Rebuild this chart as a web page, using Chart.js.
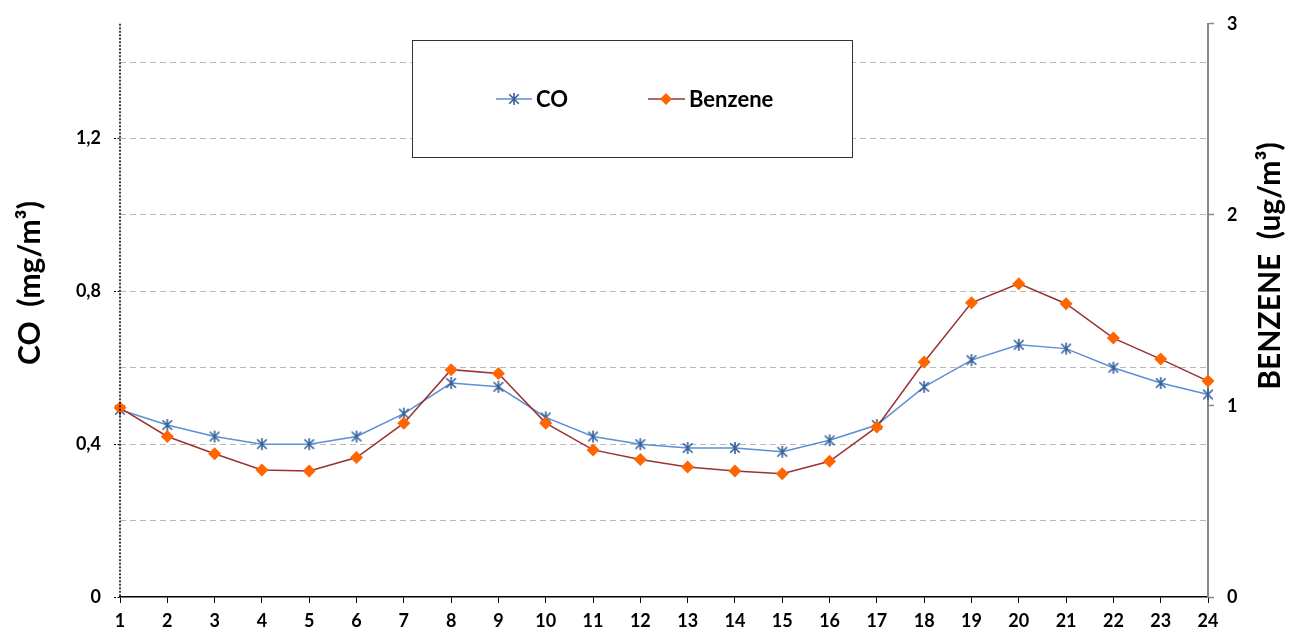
<!DOCTYPE html>
<html>
<head>
<meta charset="utf-8">
<script src="https://cdn.jsdelivr.net/npm/chart.js@4/dist/chart.umd.min.js"></script>
<style>
html,body{margin:0;padding:0;background:#fff;}
#wrap{width:1307px;height:632px;position:relative;}
</style>
</head>
<body>
<div id="wrap"><canvas id="c"></canvas></div>
<script>
const hours = ['1','2','3','4','5','6','7','8','9','10','11','12','13','14','15','16','17','18','19','20','21','22','23','24'];
const coValues = [0.49,0.45,0.42,0.40,0.40,0.42,0.48,0.56,0.55,0.47,0.42,0.40,0.39,0.39,0.38,0.41,0.45,0.55,0.62,0.66,0.65,0.60,0.56,0.53];
const benzeneValues = [0.99,0.84,0.75,0.665,0.66,0.73,0.91,1.19,1.17,0.91,0.77,0.72,0.68,0.66,0.645,0.71,0.89,1.23,1.54,1.64,1.535,1.355,1.245,1.13];
const seriesNames = ['CO','Benzene'];
const leftTitle = 'CO  (mg/m³)';
const rightTitle = 'BENZENE  (ug/m³)';

const FONT = 'Lato, "Open Sans", sans-serif';
const CO_LINE = '#5b8fd8';
const CO_MARK = '#36609a';
const BZ_LINE = '#993333';
const BZ_MARK = '#ff6600';

Chart.defaults.font.family = FONT;
Chart.defaults.font.weight = 700;
Chart.defaults.font.size = 18;
Chart.defaults.color = '#000';

function starMarker(size){
  const c = document.createElement('canvas');
  c.width = size; c.height = size;
  const g = c.getContext('2d');
  const m = size/2, r = size/2 - 1;
  g.strokeStyle = CO_MARK; g.lineWidth = 1.6;
  g.beginPath();
  g.moveTo(m, m-r); g.lineTo(m, m+r);
  const d = r*0.8;
  g.moveTo(m-d, m-d); g.lineTo(m+d, m+d);
  g.moveTo(m+d, m-d); g.lineTo(m-d, m+d);
  g.stroke();
  return c;
}
const coMarker = starMarker(14);

const overlay = {
  id:'overlay',
  afterDraw(chart){
    const ctx = chart.ctx;
    const ca = chart.chartArea;
    ctx.save();
    ctx.strokeStyle = '#000'; ctx.lineWidth = 1.5; ctx.setLineDash([2,1.5]);
    ctx.beginPath(); ctx.moveTo(ca.left, ca.top); ctx.lineTo(ca.left, ca.bottom); ctx.stroke();
    ctx.setLineDash([]);
    ctx.fillStyle = '#fff';
    ctx.fillRect(412.5, 40.5, 440, 117);
    ctx.strokeStyle = '#333'; ctx.lineWidth = 1;
    ctx.strokeRect(412.5, 40.5, 440, 117);
    const ly = 99;
    ctx.strokeStyle = CO_LINE; ctx.lineWidth = 1.5;
    ctx.beginPath(); ctx.moveTo(496, ly); ctx.lineTo(532, ly); ctx.stroke();
    ctx.drawImage(coMarker, 514-7, ly-7);
    ctx.strokeStyle = BZ_LINE;
    ctx.beginPath(); ctx.moveTo(648, ly); ctx.lineTo(685, ly); ctx.stroke();
    ctx.fillStyle = BZ_MARK;
    ctx.beginPath(); ctx.moveTo(666, ly-6); ctx.lineTo(672, ly); ctx.lineTo(666, ly+6); ctx.lineTo(660, ly); ctx.closePath(); ctx.fill();
    ctx.fillStyle = '#000';
    ctx.font = 'bold 22px ' + FONT;
    ctx.textBaseline = 'middle'; ctx.textAlign = 'left';
    ctx.fillText(seriesNames[0], 536, ly+1);
    ctx.fillText(seriesNames[1], 689, ly+1);
    ctx.font = 'bold 30px ' + FONT;
    ctx.textAlign = 'center'; ctx.textBaseline = 'middle';
    ctx.save(); ctx.translate(30, 283); ctx.rotate(-Math.PI/2); ctx.fillText(leftTitle, 0, 0); ctx.restore();
    ctx.save(); ctx.translate(1270, 266); ctx.rotate(-Math.PI/2); ctx.fillText(rightTitle, 0, 0); ctx.restore();
    ctx.restore();
  }
};

const tickFont = {family:FONT, size:18, weight:700};

function build(){
  new Chart(document.getElementById('c'), {
    type:'line',
    data:{
      labels: hours,
      datasets:[
        {label:seriesNames[0], data:coValues, yAxisID:'y', order:1,
         borderColor:CO_LINE, borderWidth:1.5, pointStyle:coMarker, pointRadius:7,
         backgroundColor:CO_MARK, tension:0},
        {label:seriesNames[1], data:benzeneValues, yAxisID:'y1', order:0,
         borderColor:BZ_LINE, borderWidth:1.5, pointStyle:'rectRot', pointRadius:6.5,
         pointBackgroundColor:BZ_MARK, pointBorderColor:BZ_MARK, pointBorderWidth:0, tension:0}
      ]
    },
    options:{
      responsive:true, maintainAspectRatio:false, animation:false,
      layout:{padding:{top:20, left:0, right:0, bottom:0}},
      plugins:{legend:{display:false}, tooltip:{enabled:false}},
      scales:{
        x:{
          type:'category', offset:false,
          grid:{drawOnChartArea:false, drawTicks:true, tickLength:6, color:'#000', tickColor:'#000', tickWidth:1},
          border:{display:true, color:'#000', width:1.5},
          ticks:{color:'#000', font:tickFont, padding:7, maxRotation:0, autoSkip:false},
          afterFit(s){ s.height = 35; }
        },
        y:{
          position:'left', min:0, max:1.5,
          ticks:{stepSize:0.2, color:'#000', font:tickFont, padding:13,
            callback(v){ const k = Math.round(v*10); if (k % 4 !== 0) return ''; return k===0 ? '0' : (v.toFixed(1).replace('.',',')); }},
          grid:{
            color(ctx){ const v = ctx.tick ? ctx.tick.value : 0; const k = Math.round(v*10); return (k===0 || k===15) ? 'rgba(0,0,0,0)' : '#b8b8b8'; },
            lineWidth:1,
            tickLength:6,
            tickColor(ctx){ const v = ctx.tick ? ctx.tick.value : 0; const k = Math.round(v*10); return (k%4===0) ? '#000' : 'rgba(0,0,0,0)'; },
            tickBorderDash:[2,1.5]
          },
          border:{display:false, dash:[6,4]},
          afterFit(s){ s.width = 120; }
        },
        y1:{
          position:'right', min:0, max:3,
          ticks:{stepSize:1, color:'#000', font:tickFont, padding:13},
          grid:{drawOnChartArea:false, tickLength:6, tickColor:'#888', tickWidth:1.5},
          border:{display:true, color:'#888', width:2},
          afterFit(s){ s.width = 99; }
        }
      }
    },
    plugins:[overlay]
  });
}

Promise.all([
  document.fonts.load('bold 18px Lato'),
  document.fonts.load('bold 22px Lato'),
  document.fonts.load('bold 30px Lato')
]).then(build, build);
</script>
</body>
</html>
